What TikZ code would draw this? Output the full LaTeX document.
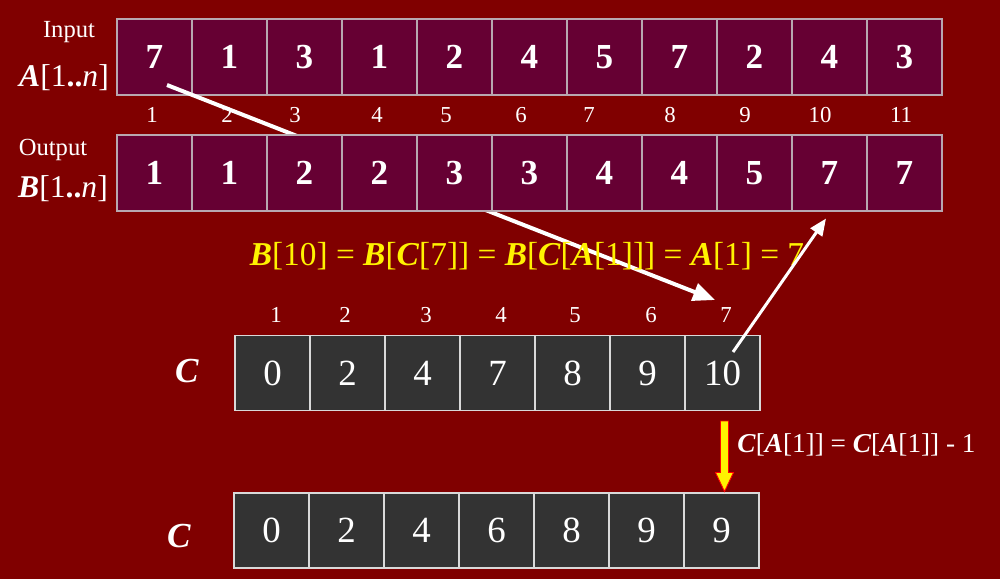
\documentclass[tikz,border=0pt]{standalone}
\usepackage{fontspec}
\setmainfont{Liberation Serif}
\usetikzlibrary{arrows.meta,calc}
\definecolor{bgred}{HTML}{800000}
\definecolor{plum}{HTML}{660033}
\definecolor{slate}{HTML}{333333}
\definecolor{cellline}{HTML}{B8A8B0}
\newcommand{\bvar}[1]{\textbf{\textit{#1}}}

\begin{document}
\begin{tikzpicture}[x=0.02cm, y=-0.02cm,
  plumcell/.style={draw=cellline, fill=plum, line width=0.6pt, minimum width=1.5cm,
    minimum height=1.52cm, inner sep=0pt, text=white, font=\fontsize{20}{22}\selectfont\bfseries},
  slatecell/.style={draw=white!85!black, fill=slate, line width=0.6pt, minimum width=1.5cm,
    minimum height=1.5cm, inner sep=0pt, text=white, font=\fontsize{21}{23}\selectfont},
  idx/.style={text=white, font=\fontsize{13}{14}\selectfont, inner sep=1pt},
  caption/.style={text=white, font=\fontsize{14}{15}\selectfont, inner sep=0pt},
  arrname/.style={text=white, font=\fontsize{18}{19}\selectfont, inner sep=0pt},
  fatarrow/.style={draw=white, line width=0.08cm, -{Triangle[length=0.44cm, width=0.36cm]}},
  thinarrow/.style={draw=white, line width=0.06cm, -{Triangle[length=0.34cm, width=0.28cm]}}]
  \fill[bgred] (0,0) rectangle (1000,579);
  \useasboundingbox (0,0) rectangle (1000,579);

  % input array A
  \foreach \v [count=\i] in {7,1,3,1,2,4,5,7,2,4,3}
    \node[plumcell] (a\i) at ({117+75*(\i-0.5)},57) {\v};
  \foreach \x [count=\i] in {152,227,295,377,446,521,589,670,745,820,901}
    \node[idx] (ai\i) at (\x,115) {\i};
  \node[caption] (input) at (69,32) {Input};
  \node[arrname] (aname) at (64,78) {\bvar{A}[1\textbf{..}\textit{n}]};

  % index labels of C
  \foreach \x [count=\i] in {276,345,426,501,575,651,726}
    \node[idx] (ci\i) at (\x,315) {\i};

  % A[1] looks up C[7] (runs under B)
  \coordinate (s1) at ($(a1.center)+(12.5,28)$);
  \coordinate (e1) at ($(ci7.center)+(-11,-15)$);
  \draw[fatarrow] (s1) -- (e1);

  % output array B
  \foreach \v [count=\i] in {1,1,2,2,3,3,4,4,5,7,7}
    \node[plumcell] (b\i) at ({117+75*(\i-0.5)},173) {\v};
  \node[caption] (output) at (53,150) {Output};
  \node[arrname] (bname) at (63,189) {\bvar{B}[1\textbf{..}\textit{n}]};

  \node[text=yellow, font=\fontsize{19}{20}\selectfont, inner sep=0pt] (eq) at (527,256)
    {\bvar{B}[10] = \bvar{B}[\bvar{C}[7]] = \bvar{B}[\bvar{C}[\bvar{A}[1]]] = \bvar{A}[1] = 7};

  % count array C, before and after
  \foreach \v [count=\i] in {0,2,4,7,8,9,10}
    \node[slatecell] (c\i) at ({235+75*(\i-0.5)},373) {\v};
  \node[arrname, font=\fontsize{20}{21}\selectfont] (cname) at (187,371) {\bvar{C}};
  \foreach \v [count=\i] in {0,2,4,6,8,9,9}
    \node[slatecell] (d\i) at ({234+75*(\i-0.5)},530.5) {\v};
  \node[arrname, font=\fontsize{20}{21}\selectfont] (dname) at (179,536) {\bvar{C}};

  % C[7] gives the place in B
  \coordinate (s2) at ($(c7.center)+(10.5,-21)$);
  \coordinate (e2) at ($(b10.south)+(-3.5,7)$);
  \draw[thinarrow] (s2) -- (e2);

  % decrement
  \coordinate (y1) at ($(c7.south)+(2,10)$);
  \coordinate (y2) at ($(d7.north)+(3,-1)$);
  \filldraw[fill=yellow, draw=red, line width=0.5pt]
    ($(y1)+(-4,0)$) -- ($(y1)+(4,0)$) -- ($(y2)+(4,-19)$) -- ($(y2)+(9,-19)$)
    -- (y2) -- ($(y2)+(-9,-19)$) -- ($(y2)+(-4,-19)$) -- cycle;
  \node[text=white, font=\fontsize{15.5}{16}\selectfont, inner sep=0pt, anchor=west] (dec) at (737,445)
    {\bvar{C}[\bvar{A}[1]] = \bvar{C}[\bvar{A}[1]] - 1};
\end{tikzpicture}
\end{document}
